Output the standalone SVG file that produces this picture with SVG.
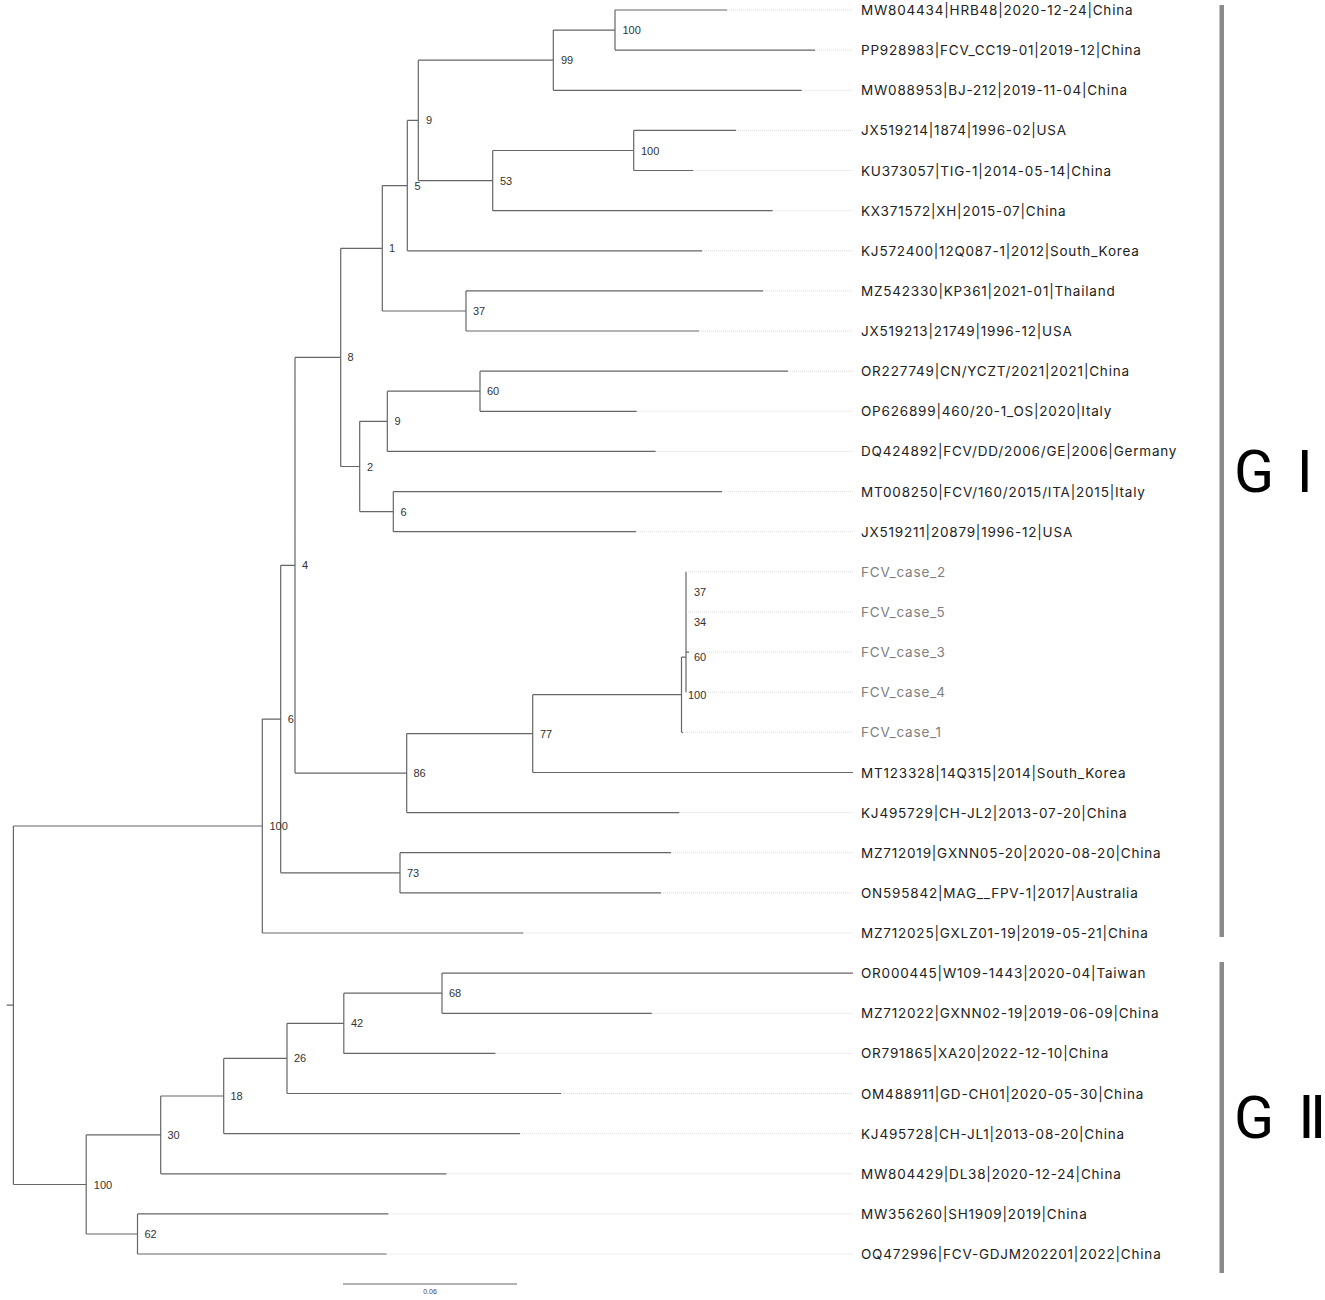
<svg xmlns="http://www.w3.org/2000/svg" width="1325" height="1300" viewBox="0 0 1325 1300">
<style>
.br{fill:none;stroke:#666;stroke-width:1.2}
.ld{fill:none;stroke:#d4d4d4;stroke-width:0.8;stroke-dasharray:1 1}
.tip text{font-family:Inter,"Liberation Sans",sans-serif;font-size:13.5px;fill:#222;letter-spacing:0.8px}
.tip.case text{fill:#808080}
.bs{font-family:"Liberation Sans",Arial,sans-serif;font-size:11px;fill:#333}
.clade{fill:#8a8a8a}
.cl{font-family:Roboto,"DejaVu Sans","Noto Sans CJK SC",sans-serif;font-size:59px;fill:#000}
.sc{font-family:"Liberation Sans",Arial,sans-serif;font-size:7px;fill:#444}
</style>
<rect width="1325" height="1300" fill="#fff"/>
<g id="connectors">
<path class="br" d="M6.7 1005.2H13.4 M13.4 826V1184.5 M13.4 826H262.3 M13.4 1184.5H86.2
M262.3 719.1V933 M262.3 719.1H280.7 M280.7 565.3V872.8 M280.7 565.3H295 M280.7 872.8H400
M295 357.4V773.1 M295 357.4H340.7 M295 773.1H406.7
M340.7 248.3V466.5 M340.7 248.3H382.3 M340.7 466.5H359.7
M382.3 185.6V311 M382.3 185.6H407.3 M382.3 311H466
M407.3 120.4V250.8 M407.3 120.4H418.3
M418.3 60.2V180.6 M418.3 60.2H553.3 M418.3 180.6H492.7
M553.3 30.1V90.3 M553.3 30.1H615 M615 10V50.1
M492.7 150.5V210.7 M492.7 150.5H633.7 M633.7 130.4V170.5
M466 290.9V331
M359.7 421.3V511.6 M359.7 421.3H387.3 M359.7 511.6H393.3
M387.3 391.2V451.4 M387.3 391.2H480 M480 371.2V411.3
M393.3 491.6V531.7
M406.7 733.6V812.6 M406.7 733.6H532.7
M532.7 694.7V772.5 M532.7 694.7H681.5
M681.5 657.1V732.3 M681.5 657.1H686 M686 571.8V692.2
M400 852.7V892.9
M86.2 1134.9V1234 M86.2 1134.9H160.7 M86.2 1234H137.5
M160.7 1096V1173.8 M160.7 1096H223.7
M223.7 1058.4V1133.6 M223.7 1058.4H287
M287 1023.3V1093.5 M287 1023.3H343.8
M343.8 993.2V1053.4 M343.8 993.2H442
M442 973.1V1013.3
M137.5 1213.9V1254"/>
<path class="br" d="M615 10H727 M615 50.1H815 M553.3 90.3H801.7 M633.7 130.4H736 M633.7 170.5H693.3
M492.7 210.7H772.7 M407.3 250.8H702 M466 290.9H763 M466 331H699 M480 371.2H788 M480 411.3H636.7
M387.3 451.4H655.7 M393.3 491.6H722 M393.3 531.7H636 M686 652.1H689 M681.5 732.3H683
M532.7 772.5H853 M406.7 812.6H679.3 M400 852.7H671 M400 892.9H661 M262.3 933H523.3
M442 973.1H853 M442 1013.3H651.8 M343.8 1053.4H495.5 M287 1093.5H561 M223.7 1133.6H520
M160.7 1173.8H446.4 M137.5 1213.9H388.4 M137.5 1254H386.6"/>
<path class="ld" d="M727 10H853 M815 50.1H853 M801.7 90.3H853 M736 130.4H853 M693.3 170.5H853
M772.7 210.7H853 M702 250.8H853 M763 290.9H853 M699 331H853 M788 371.2H853 M636.7 411.3H853
M655.7 451.4H853 M722 491.6H853 M636 531.7H853 M686 571.8H853 M686 612H853 M689 652.1H853
M686 692.2H853 M683 732.3H853 M679.3 812.6H853 M671 852.7H853 M661 892.9H853 M523.3 933H853
M651.8 1013.3H853 M495.5 1053.4H853 M561 1093.5H853 M520 1133.6H853 M446.4 1173.8H853
M388.4 1213.9H853 M386.6 1254H853"/>
</g>
<g id="tips">
<g id="tip-MW804434" class="tip"><text x="861" y="15">MW804434|HRB48|2020-12-24|China</text></g>
<g id="tip-PP928983" class="tip"><text x="861" y="55.1">PP928983|FCV_CC19-01|2019-12|China</text></g>
<g id="tip-MW088953" class="tip"><text x="861" y="95.3">MW088953|BJ-212|2019-11-04|China</text></g>
<g id="tip-JX519214" class="tip"><text x="861" y="135.4">JX519214|1874|1996-02|USA</text></g>
<g id="tip-KU373057" class="tip"><text x="861" y="175.5">KU373057|TIG-1|2014-05-14|China</text></g>
<g id="tip-KX371572" class="tip"><text x="861" y="215.7">KX371572|XH|2015-07|China</text></g>
<g id="tip-KJ572400" class="tip"><text x="861" y="255.8">KJ572400|12Q087-1|2012|South_Korea</text></g>
<g id="tip-MZ542330" class="tip"><text x="861" y="295.9">MZ542330|KP361|2021-01|Thailand</text></g>
<g id="tip-JX519213" class="tip"><text x="861" y="336">JX519213|21749|1996-12|USA</text></g>
<g id="tip-OR227749" class="tip"><text x="861" y="376.2">OR227749|CN/YCZT/2021|2021|China</text></g>
<g id="tip-OP626899" class="tip"><text x="861" y="416.3">OP626899|460/20-1_OS|2020|Italy</text></g>
<g id="tip-DQ424892" class="tip"><text x="861" y="456.4">DQ424892|FCV/DD/2006/GE|2006|Germany</text></g>
<g id="tip-MT008250" class="tip"><text x="861" y="496.6">MT008250|FCV/160/2015/ITA|2015|Italy</text></g>
<g id="tip-JX519211" class="tip"><text x="861" y="536.7">JX519211|20879|1996-12|USA</text></g>
<g id="tip-FCV_case_2" class="tip case"><text x="861" y="576.8">FCV_case_2</text></g>
<g id="tip-FCV_case_5" class="tip case"><text x="861" y="617">FCV_case_5</text></g>
<g id="tip-FCV_case_3" class="tip case"><text x="861" y="657.1">FCV_case_3</text></g>
<g id="tip-FCV_case_4" class="tip case"><text x="861" y="697.2">FCV_case_4</text></g>
<g id="tip-FCV_case_1" class="tip case"><text x="861" y="737.3">FCV_case_1</text></g>
<g id="tip-MT123328" class="tip"><text x="861" y="777.5">MT123328|14Q315|2014|South_Korea</text></g>
<g id="tip-KJ495729" class="tip"><text x="861" y="817.6">KJ495729|CH-JL2|2013-07-20|China</text></g>
<g id="tip-MZ712019" class="tip"><text x="861" y="857.7">MZ712019|GXNN05-20|2020-08-20|China</text></g>
<g id="tip-ON595842" class="tip"><text x="861" y="897.9">ON595842|MAG__FPV-1|2017|Australia</text></g>
<g id="tip-MZ712025" class="tip"><text x="861" y="938">MZ712025|GXLZ01-19|2019-05-21|China</text></g>
<g id="tip-OR000445" class="tip"><text x="861" y="978.1">OR000445|W109-1443|2020-04|Taiwan</text></g>
<g id="tip-MZ712022" class="tip"><text x="861" y="1018.3">MZ712022|GXNN02-19|2019-06-09|China</text></g>
<g id="tip-OR791865" class="tip"><text x="861" y="1058.4">OR791865|XA20|2022-12-10|China</text></g>
<g id="tip-OM488911" class="tip"><text x="861" y="1098.5">OM488911|GD-CH01|2020-05-30|China</text></g>
<g id="tip-KJ495728" class="tip"><text x="861" y="1138.6">KJ495728|CH-JL1|2013-08-20|China</text></g>
<g id="tip-MW804429" class="tip"><text x="861" y="1178.8">MW804429|DL38|2020-12-24|China</text></g>
<g id="tip-MW356260" class="tip"><text x="861" y="1218.9">MW356260|SH1909|2019|China</text></g>
<g id="tip-OQ472996" class="tip"><text x="861" y="1259">OQ472996|FCV-GDJM202201|2022|China</text></g>
</g>
<g id="support">
<g id="n-GI"><text class="bs" x="269.5" y="830">100</text></g>
<g id="n-6"><text class="bs" x="287.7" y="723.1">6</text></g>
<g id="n-4"><text class="bs" x="302" y="569.3">4</text></g>
<g id="n-8"><text class="bs" x="347.5" y="361.4">8</text></g>
<g id="n-1"><text class="bs" x="389" y="252.3">1</text></g>
<g id="n-5"><text class="bs" x="414.5" y="189.6">5</text></g>
<g id="n-9"><text class="bs" x="426" y="124.4">9</text></g>
<g id="n-99"><text class="bs" x="561" y="64.2">99</text></g>
<g id="n-100a"><text class="bs" x="622.5" y="34.1">100</text></g>
<g id="n-53"><text class="bs" x="500" y="184.6">53</text></g>
<g id="n-100b"><text class="bs" x="641" y="154.5">100</text></g>
<g id="n-37"><text class="bs" x="473" y="315">37</text></g>
<g id="n-2"><text class="bs" x="367" y="470.5">2</text></g>
<g id="n-9b"><text class="bs" x="394.5" y="425.3">9</text></g>
<g id="n-60b"><text class="bs" x="487" y="395.2">60</text></g>
<g id="n-6a"><text class="bs" x="400.5" y="515.6">6</text></g>
<g id="n-86"><text class="bs" x="413.5" y="777.1">86</text></g>
<g id="n-77"><text class="bs" x="540" y="737.6">77</text></g>
<g id="n-100c"><text class="bs" x="688" y="698.7">100</text></g>
<g id="n-60c"><text class="bs" x="694" y="661.1">60</text></g>
<g id="n-34c"><text class="bs" x="694" y="626">34</text></g>
<g id="n-37c"><text class="bs" x="694" y="595.9">37</text></g>
<g id="n-73"><text class="bs" x="407" y="876.8">73</text></g>
<g id="n-GII"><text class="bs" x="93.8" y="1188.5">100</text></g>
<g id="n-30"><text class="bs" x="167.5" y="1138.9">30</text></g>
<g id="n-18"><text class="bs" x="230.5" y="1100">18</text></g>
<g id="n-26"><text class="bs" x="294" y="1062.4">26</text></g>
<g id="n-42"><text class="bs" x="351" y="1027.3">42</text></g>
<g id="n-68"><text class="bs" x="449" y="997.2">68</text></g>
<g id="n-62"><text class="bs" x="144.5" y="1238">62</text></g>
</g>
<g id="clade-GI"><rect class="clade" x="1219.5" y="5" width="4.5" height="932"/><text class="cl" x="1234" y="492" word-spacing="8">G I</text></g>
<g id="clade-GII"><rect class="clade" x="1219.5" y="962" width="4.5" height="311"/><text class="cl" x="1234" y="1137.5" word-spacing="9">G Ⅱ</text></g>
<g id="scale"><path class="br" d="M343 1284H517"/><text class="sc" x="430" y="1294" text-anchor="middle">0.06</text></g>
</svg>
